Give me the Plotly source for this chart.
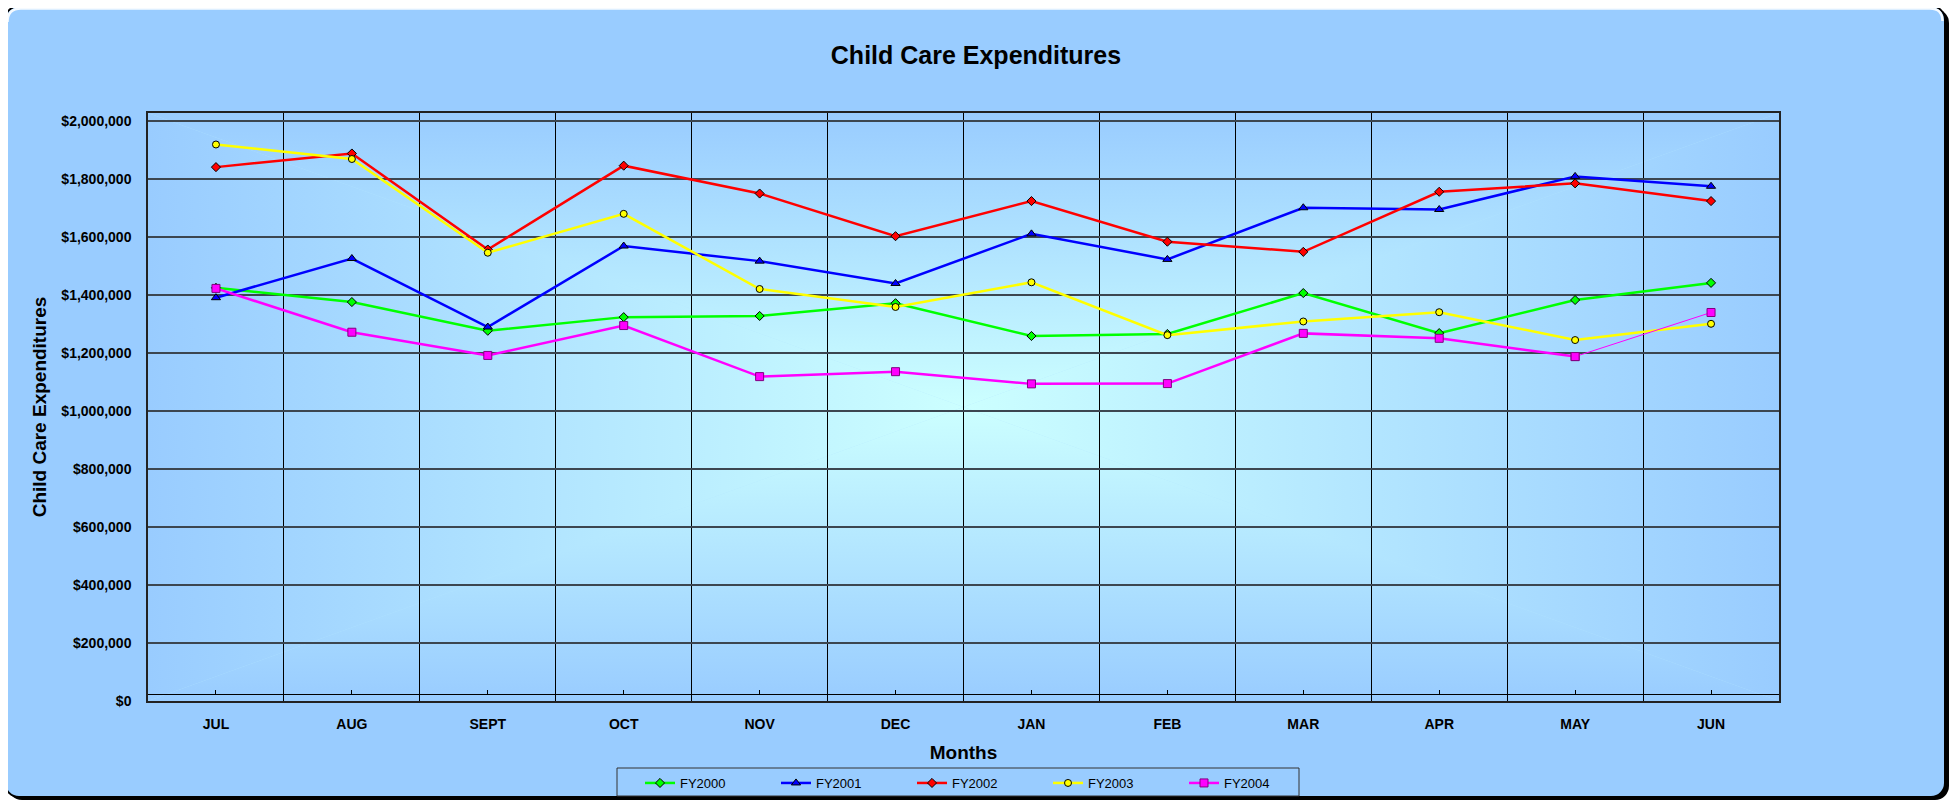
import base64
import plotly.graph_objects as go

# ---------------- data ----------------
months = ["JUL", "AUG", "SEPT", "OCT", "NOV", "DEC", "JAN", "FEB", "MAR", "APR", "MAY", "JUN"]
fy2000 = [1424000, 1375000, 1276000, 1323000, 1327000, 1371000, 1258000, 1265000, 1406000, 1268000, 1382000, 1441000]
fy2001 = [1390000, 1525000, 1289000, 1568000, 1516000, 1439000, 1610000, 1522000, 1700000, 1694000, 1808000, 1774000]
fy2002 = [1840000, 1887000, 1556000, 1845000, 1749000, 1602000, 1723000, 1583000, 1548000, 1755000, 1784000, 1723000]
fy2003 = [1918000, 1868000, 1545000, 1679000, 1420000, 1358000, 1443000, 1261000, 1308000, 1340000, 1244000, 1300000]
fy2004 = [1422000, 1271000, 1191000, 1294000, 1118000, 1135000, 1093000, 1094000, 1267000, 1250000, 1187000, 1339000]

title_text = "Child Care Expenditures"
y_title = "Child Care Expenditures"
x_title = "Months"

# ---------------- geometry (pixels, page coordinates) ----------------
OFF = 8                      # page body margin added by the browser
FW, FH = 1958 - OFF, 803 - OFF
PL, PR, PT, PB = 148 - OFF, 1779 - OFF, 113 - OFF, 701 - OFF
PW, PH = PR - PL, PB - PT
Y_MAX = 2000000 * PH / (PB - (120.7 - OFF))


def X(px):
    """page x (target pixels) -> paper"""
    return (px - OFF - PL) / PW


def Y(py):
    """page y (target pixels) -> paper"""
    return (PB - (py - OFF)) / PH


FONT = "Arial, 'Liberation Sans', sans-serif"

# ---------------- background (SVG) ----------------
cx, cy = (PL + PR) / 2, (PT + PB) / 2
C_IN, C_OUT = "#CCFFFF", "#99CCFF"


def grad(gid, x1, y1, x2, y2):
    return (f'<linearGradient id="{gid}" gradientUnits="userSpaceOnUse" x1="{x1}" y1="{y1}" x2="{x2}" y2="{y2}">'
            f'<stop offset="0" stop-color="{C_IN}"/><stop offset="1" stop-color="{C_OUT}"/></linearGradient>')


o = OFF
svg = f'''<svg xmlns="http://www.w3.org/2000/svg" width="{FW}" height="{FH}" viewBox="0 0 {FW} {FH}">
<defs>
{grad("gt", cx, cy, cx, PT)}
{grad("gb", cx, cy, cx, PB)}
{grad("gl", cx, cy, PL, cy)}
{grad("gr", cx, cy, PR, cy)}
</defs>
<rect x="0" y="0" width="{FW}" height="{FH}" fill="#FFFFFF"/>
<rect x="{8 - o}" y="{9 - o}" width="1941" height="791" rx="14" ry="14" fill="#000000"/>
<rect x="{5 - o}" y="{6 - o}" width="1940" height="791" rx="14" ry="14" fill="#99CCFF" stroke="#000000" stroke-width="2"/>
<path d="M {7.5 - o} {22 - o} Q {7.5 - o} {8.5 - o} {21 - o} {8.5 - o} L {1930 - o} {8.5 - o} Q {1942.5 - o} {8.5 - o} {1942.5 - o} {21 - o}" fill="none" stroke="#FFFFFF" stroke-width="2.5" opacity="0.9"/>
<rect x="{PL}" y="{PT}" width="{PW}" height="{PH}" fill="#B3E6FF"/>
<polygon points="{PL},{PT} {PR},{PT} {cx},{cy}" fill="url(#gt)"/>
<polygon points="{PL},{PB} {PR},{PB} {cx},{cy}" fill="url(#gb)"/>
<polygon points="{PL},{PT} {PL},{PB} {cx},{cy}" fill="url(#gl)"/>
<polygon points="{PR},{PT} {PR},{PB} {cx},{cy}" fill="url(#gr)"/>
</svg>'''
svg_uri = "data:image/svg+xml;base64," + base64.b64encode(svg.encode()).decode()

# ---------------- traces ----------------
fig = go.Figure()

series = [
    ("FY2000", fy2000, "#00FF00", "diamond", 7, "#000000"),
    ("FY2001", fy2001, "#0000FF", "triangle-up", 8, "#000000"),
    ("FY2002", fy2002, "#FF0000", "diamond", 7, "#000000"),
    ("FY2003", fy2003, "#FFFF00", "circle", 7, "#000000"),
]
for name, vals, color, sym, size, edge in series:
    fig.add_trace(go.Scatter(
        x=months, y=vals, name=name, mode="lines+markers",
        line=dict(color=color, width=2.5),
        marker=dict(symbol=sym, size=size, color=color, line=dict(color=edge, width=1)),
    ))

# FY2004: last segment drawn thin, as in the original
fig.add_trace(go.Scatter(
    x=months[:11], y=fy2004[:11], name="FY2004", mode="lines+markers", legendgroup="fy2004",
    line=dict(color="#FF00FF", width=2.5),
    marker=dict(symbol="square", size=8, color="#FF00FF", line=dict(color="#800080", width=1)),
))
fig.add_trace(go.Scatter(
    x=months[10:], y=fy2004[10:], name="FY2004", mode="lines+markers", legendgroup="fy2004",
    showlegend=False,
    line=dict(color="#FF00FF", width=1),
    marker=dict(symbol="square", size=8, color="#FF00FF", line=dict(color="#800080", width=1)),
))

# invisible trace that carries the inner category axis (tick marks)
fig.add_trace(go.Scatter(x=months, y=[None] * len(months), xaxis="x2", showlegend=False,
                         hoverinfo="skip", mode="lines"))

# ---------------- layout ----------------
fig.update_layout(
    width=FW, height=FH,
    margin=dict(l=PL, r=FW - PR, t=PT, b=FH - PB, autoexpand=False),
    paper_bgcolor="#FFFFFF",
    plot_bgcolor="rgba(0,0,0,0)",
    font=dict(family=FONT, color="#000000"),
    title=dict(text=title_text, x=(976 - OFF) / FW, y=1 - (55 - OFF) / FH, xref="container", yref="container",
               xanchor="center", yanchor="middle",
               font=dict(size=25, family=FONT, weight="bold", color="#000000")),
    xaxis=dict(
        type="category", categoryorder="array", categoryarray=months,
        range=[-0.5, len(months) - 0.5],
        tickson="boundaries", ticks="", showgrid=True, gridcolor="#000000", gridwidth=1,
        showline=True, linecolor="#222222", linewidth=1.5, mirror=True,
        tickfont=dict(size=14, family=FONT, weight="bold"),
        ticklabelstandoff=9,
        zeroline=False,
        title=dict(text=x_title, standoff=15, font=dict(size=19, family=FONT, weight="bold")),
    ),
    xaxis2=dict(
        type="category", categoryorder="array", categoryarray=months,
        range=[-0.5, len(months) - 0.5],
        overlaying="x", anchor="free", position=Y(694), side="bottom",
        showline=True, linecolor="#000000", linewidth=1,
        ticks="inside", ticklen=4, tickcolor="#000000", tickwidth=1,
        showticklabels=False, showgrid=False, zeroline=False,
    ),
    yaxis=dict(
        range=[0, Y_MAX], dtick=200000, tick0=0,
        tickprefix="$", tickformat=",d",
        showgrid=True, gridcolor="#3C4650", gridwidth=1.5,
        showline=True, linecolor="#222222", linewidth=1.5, mirror=True,
        ticks="", zeroline=False,
        tickfont=dict(size=14, family=FONT, weight="bold"),
        ticklabelstandoff=12,
        title=dict(text=y_title, standoff=10, font=dict(size=19, family=FONT, weight="bold")),
    ),
    legend=dict(
        orientation="h", x=X(640), xanchor="left", y=Y(768), yanchor="top",
        bgcolor="rgba(0,0,0,0)", borderwidth=0,
        font=dict(size=13, family=FONT, color="#000000"),
        entrywidth=91, entrywidthmode="pixels", itemwidth=30, traceorder="normal",
    ),
    showlegend=True,
    images=[dict(
        source=svg_uri, xref="paper", yref="paper",
        x=-PL / PW, y=PB / PH, sizex=FW / PW, sizey=FH / PH,
        xanchor="left", yanchor="top", sizing="stretch", layer="below",
    )],
    shapes=[
        dict(type="rect", xref="paper", yref="paper",
             x0=X(617), x1=X(1299), y0=Y(768), y1=Y(796),
             line=dict(color="#333333", width=1), fillcolor="rgba(0,0,0,0)", layer="above"),
    ],
)

fig.write_html("out.html")
